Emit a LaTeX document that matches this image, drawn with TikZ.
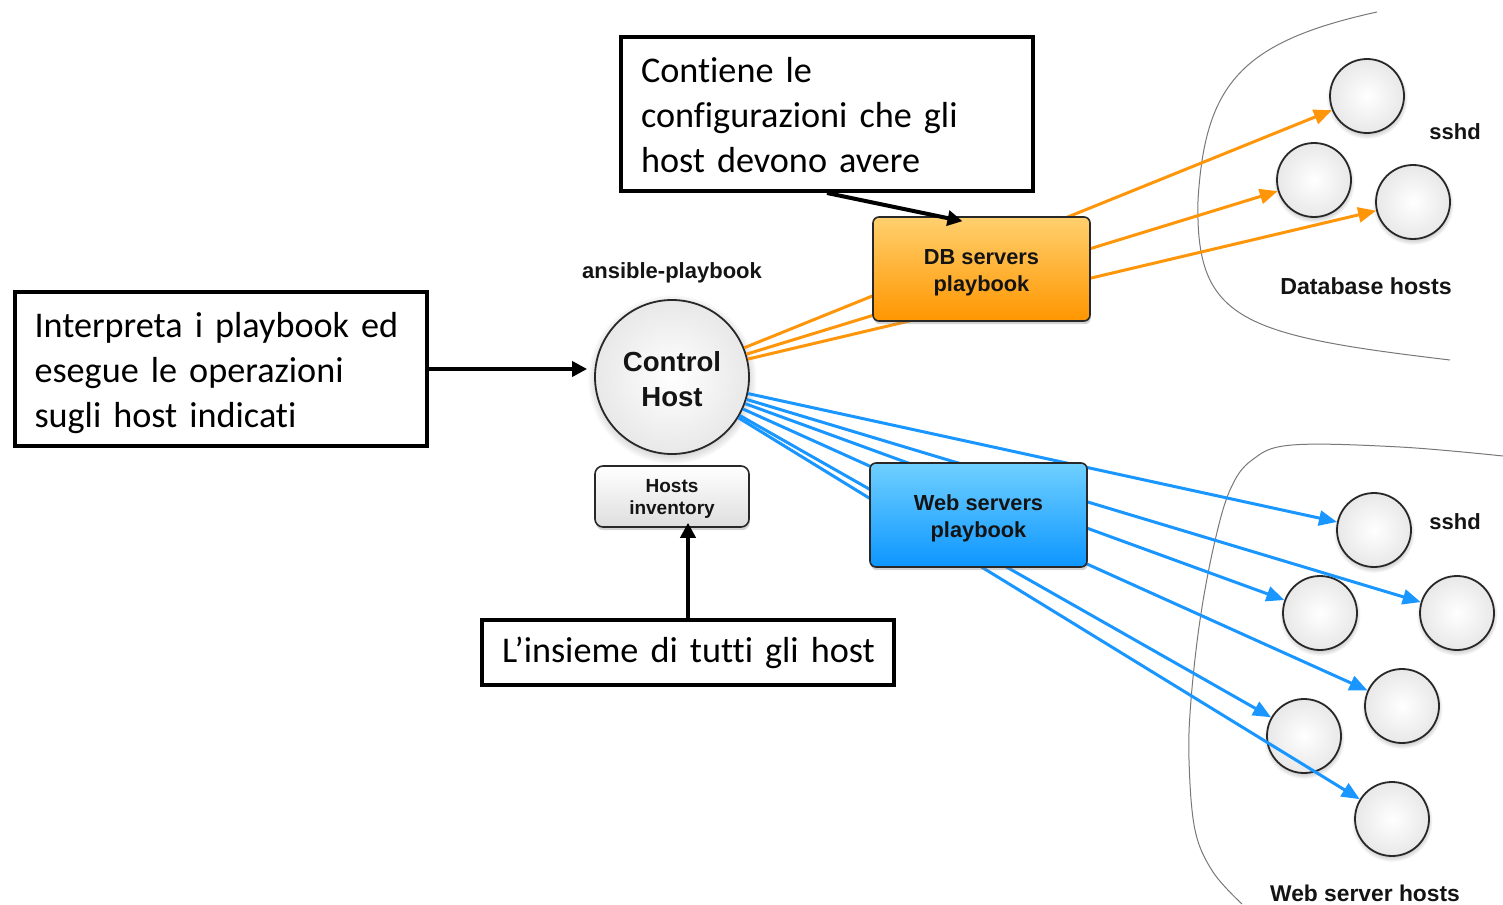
\documentclass[tikz,border=0pt]{standalone}
\usepackage{fontspec}
\setmainfont{Liberation Sans}
\newfontfamily\callfont[Ligatures=NoCommon]{Carlito}
\usetikzlibrary{arrows.meta,shadows,fadings}
\definecolor{orgline}{RGB}{255,150,10}
\definecolor{blueline}{RGB}{25,150,255}
\definecolor{dbtop}{RGB}{255,208,110}
\definecolor{dbbot}{RGB}{255,150,0}
\definecolor{webtop}{RGB}{112,208,255}
\definecolor{webbot}{RGB}{12,150,255}
\definecolor{rimgray}{RGB}{232,232,232}
\definecolor{boxgray}{RGB}{222,222,222}
\definecolor{edgegray}{RGB}{40,40,40}
\definecolor{labtext}{RGB}{20,20,20}
\definecolor{grpline}{RGB}{120,120,120}
\begin{document}
\begin{tikzpicture}[x=0.5pt,y=-0.5pt,
  ball/.style={circle, draw=edgegray, line width=0.9pt, inner sep=0pt,
    inner color=white, outer color=rimgray,
    circular drop shadow={shadow xshift=0pt, shadow yshift=-1pt, shadow scale=1.1, opacity=0.4}},
  hostc/.style={ball, minimum size=37pt},
  playbox/.style={rectangle, rounded corners=3pt, draw=edgegray, line width=0.8pt,
    minimum width=108.5pt, minimum height=52pt,
    drop shadow={shadow xshift=0.4pt, shadow yshift=-1.6pt, opacity=0.35}},
  lab/.style={text=labtext, inner sep=0pt, align=center},
  pbtext/.style={lab, font=\fontsize{10.9}{13.5}\selectfont\bfseries},
  orgarrow/.style={draw=orgline, line width=1.5pt, -{Triangle[length=9pt,width=7.5pt]}},
  bluearrow/.style={draw=blueline, line width=1.5pt, -{Triangle[length=9pt,width=7.5pt]}},
  blackarrow/.style={draw=black, line width=2pt, -{Triangle[length=7.5pt,width=7.5pt]}},
  callout/.style={rectangle, draw=black, line width=2pt, fill=white, minimum width=206pt},
  ctext/.style={align=left, inner sep=0pt, text width=186pt,
    font=\callfont\fontsize{18.1}{22.5}\selectfont},
  grp/.style={draw=grpline, line width=0.5pt}
]
\useasboundingbox (0,0) rectangle (1503,904);

% group outlines
\draw[grp] (1377,12) .. controls (1240,42) and (1205,85) .. (1198,200)
  .. controls (1195,320) and (1240,335) .. (1450,360);
\draw[grp] plot[smooth, tension=0.6] coordinates {(1503,456) (1400,447) (1292,445) (1252,460) (1230,490) (1214,545) (1200,620) (1191,700) (1189,760) (1195,830) (1213,872) (1242,904)};

% control host and inventory
\node[ball, minimum size=77pt] (ch) at (672,377) {};
\node[lab, font=\fontsize{13.8}{17.5}\selectfont\bfseries] (cht) at (672,379) {Control\\Host};
\node[lab, font=\fontsize{11}{13}\selectfont\bfseries] (ap) at (672,273) {ansible-playbook};
\node[rectangle, rounded corners=4pt, draw=edgegray, line width=0.8pt,
  top color=white, bottom color=boxgray, minimum width=77pt, minimum height=30.5pt,
  drop shadow={shadow xshift=0.4pt, shadow yshift=-1.6pt, opacity=0.35}]
  (inv) at (672,496.5) {};
\node[lab, font=\fontsize{9.5}{11}\selectfont\bfseries] (invt) at (672,498.5) {Hosts\\inventory};

% database hosts
\node[hostc] (d1) at (1367,96) {};
\node[hostc] (d2) at (1314,180) {};
\node[hostc] (d3) at (1413,202) {};
\node[lab, font=\fontsize{11}{13}\selectfont\bfseries] (sshd1) at (1455,132) {sshd};
\node[lab, font=\fontsize{11.6}{13}\selectfont\bfseries] (dbh) at (1366,286) {Database hosts};

% web hosts
\node[hostc] (w1) at (1374,530) {};
\node[hostc] (w2) at (1320,613) {};
\node[hostc] (w3) at (1457,613) {};
\node[hostc] (w4) at (1402,706) {};
\node[hostc] (w5) at (1304,736) {};
\node[hostc] (w6) at (1392,819) {};
\node[lab, font=\fontsize{11}{13}\selectfont\bfseries] (sshd2) at (1455,522) {sshd};
\node[lab, font=\fontsize{11.4}{13}\selectfont\bfseries] (wsh) at (1365,893) {Web server hosts};

% connectors
\foreach \t in {d1,d2,d3} \draw[orgarrow] (ch) -- (\t);
\foreach \t in {w1,w2,w3,w4,w5,w6} \draw[bluearrow] (ch) -- (\t);

% playbooks
\node[playbox, top color=dbtop, bottom color=dbbot] (db) at (981.5,269) {};
\node[pbtext] (dbt) at (981.5,273) {DB servers\\playbook};
\node[playbox, top color=webtop, bottom color=webbot] (web) at (978.5,515) {};
\node[pbtext] (webt) at (978.5,518) {Web servers\\playbook};

% callouts
\node[callout, minimum height=77pt] (cl) at (220.5,369) {};
\node[ctext] (clt) at (220.5,373) {Interpreta i playbook ed\\esegue le operazioni\\sugli host indicati};
\node[callout, minimum height=77pt] (ct) at (827,114) {};
\node[ctext] (ctt) at (827,115) {Contiene le\\configurazioni che gli\\host devono avere};
\node[callout, minimum height=32.5pt] (cb) at (688,652.5) {};
\node[ctext] (cbt) at (688,653) {\mbox{L’insieme di tutti gli host}};

\draw[blackarrow, shorten >=3.5pt] (cl.east) -- (cl.east -| ch.west);
\draw[blackarrow] (ct.south) -- ([xshift=-9.5pt,yshift=-2.5pt]db.north);
\draw[blackarrow, shorten >=-2.5pt] (cb.north) -- (cb.north |- inv.south);
\end{tikzpicture}
\end{document}
